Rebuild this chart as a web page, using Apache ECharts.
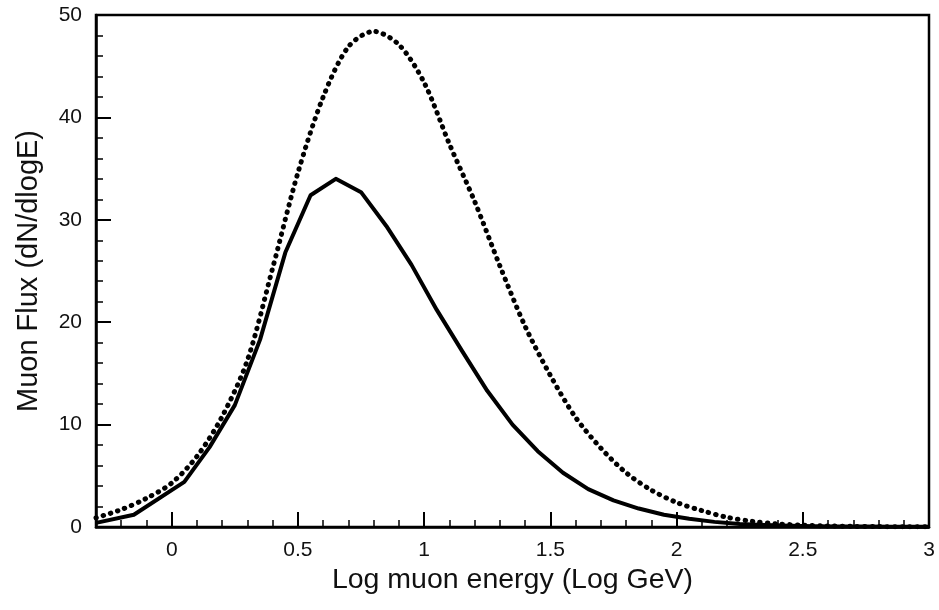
<!DOCTYPE html>
<html>
<head>
<meta charset="utf-8">
<script src="https://cdn.jsdelivr.net/npm/echarts@6/dist/echarts.min.js"></script>
<style>html,body{margin:0;padding:0;background:#fff}#c{width:939px;height:610px}</style>
</head>
<body>
<div id="c"></div>
<script>
// Solid curve (piecewise linear)
const solidX = [-0.3, -0.15, 0.05, 0.15, 0.25, 0.35, 0.45, 0.55, 0.65, 0.75, 0.85, 0.95, 1.05, 1.15, 1.25, 1.35, 1.45, 1.55, 1.65, 1.75, 1.85, 1.95, 2.05, 2.15, 2.25, 2.35, 2.45, 2.55, 2.65, 2.75, 2.85, 2.95, 3.0];
const solidY = [0.4, 1.2, 4.4, 7.8, 11.9, 18.3, 26.8, 32.4, 34.0, 32.7, 29.4, 25.6, 21.2, 17.2, 13.3, 10.0, 7.4, 5.3, 3.7, 2.6, 1.8, 1.2, 0.8, 0.5, 0.3, 0.2, 0.12, 0.08, 0.05, 0.04, 0.03, 0.02, 0.02];
// Dotted curve
const dotX = [-0.3, -0.2, -0.1, 0.0, 0.1, 0.2, 0.3, 0.4, 0.5, 0.6, 0.7, 0.8, 0.9, 1.0, 1.1, 1.2, 1.3, 1.4, 1.5, 1.6, 1.7, 1.8, 1.9, 2.0, 2.1, 2.2, 2.3, 2.4, 2.5, 2.6, 2.7, 2.8, 2.9, 3.0];
const dotY = [0.9, 1.7, 2.8, 4.3, 6.9, 10.8, 16.3, 25.3, 34.6, 42.0, 46.9, 48.4, 47.1, 43.4, 37.4, 31.8, 25.5, 19.6, 14.8, 10.7, 7.7, 5.3, 3.6, 2.4, 1.6, 0.95, 0.55, 0.3, 0.18, 0.1, 0.06, 0.04, 0.03, 0.02];
const xMajorTicks = [0, 0.5, 1, 1.5, 2, 2.5, 3];
const yTickLabels = [0, 10, 20, 30, 40, 50];

const zip = (xs, ys) => xs.map((x, i) => [x, ys[i]]);
const FONT = '"Liberation Sans", Arial, Helvetica, sans-serif';
const chart = echarts.init(document.getElementById('c'));
chart.setOption({
  animation: false,
  backgroundColor: '#fff',
  grid: { left: 96, right: 10, top: 15, bottom: 83, show: true, borderColor: '#000', borderWidth: 2.5, backgroundColor: 'transparent' },
  xAxis: [
    {
      type: 'value', min: -0.3, max: 3, interval: 0.1, position: 'bottom',
      name: 'Log muon energy (Log GeV)', nameLocation: 'middle', nameGap: 37,
      nameTextStyle: { fontFamily: FONT, fontSize: 28.5, color: '#111' },
      axisLine: { show: true, onZero: false, lineStyle: { color: '#000', width: 2.5 } },
      axisTick: { show: true, inside: true, length: 7, lineStyle: { color: '#000', width: 1.5 } },
      axisLabel: {
        show: true, margin: 13, fontFamily: FONT, fontSize: 21, color: '#111',
        formatter: function (v) {
          for (const t of xMajorTicks) { if (Math.abs(v - t) < 1e-6) return String(t); }
          return '';
        }
      },
      splitLine: { show: false }
    },
    {
      type: 'value', min: -0.3, max: 3, position: 'bottom', gridIndex: 0,
      axisLine: { show: false, onZero: false },
      axisTick: { show: true, inside: true, length: 15, lineStyle: { color: '#000', width: 2 }, customValues: xMajorTicks },
      axisLabel: { show: false },
      splitLine: { show: false }
    }
  ],
  yAxis: {
    type: 'value', min: 0, max: 50, interval: 10,
    name: 'Muon Flux (dN/dlogE)', nameLocation: 'middle', nameGap: 53,
    nameTextStyle: { fontFamily: FONT, fontSize: 29, color: '#111' },
    axisLine: { show: true, onZero: false, lineStyle: { color: '#000', width: 2.5 } },
    axisTick: { show: true, inside: true, length: 15, lineStyle: { color: '#000', width: 2 } },
    minorTick: { show: true, splitNumber: 5, length: 7, lineStyle: { color: '#000', width: 1.5 } },
    axisLabel: { margin: 14, fontFamily: FONT, fontSize: 21, color: '#111',
      formatter: function (v) { return yTickLabels.indexOf(v) >= 0 ? String(v) : ''; } },
    splitLine: { show: false }
  },
  series: [
    {
      type: 'line', name: 'dotted', data: zip(dotX, dotY), showSymbol: false, smooth: 0.3,
      lineStyle: { color: '#000', width: 5, type: [0.5, 7], cap: 'round', join: 'round' },
      clip: true, z: 3
    },
    {
      type: 'line', name: 'solid', data: zip(solidX, solidY), showSymbol: false, smooth: false,
      lineStyle: { color: '#000', width: 4, type: 'solid', join: 'round' },
      clip: true, z: 4
    }
  ]
});
</script>
</body>
</html>
